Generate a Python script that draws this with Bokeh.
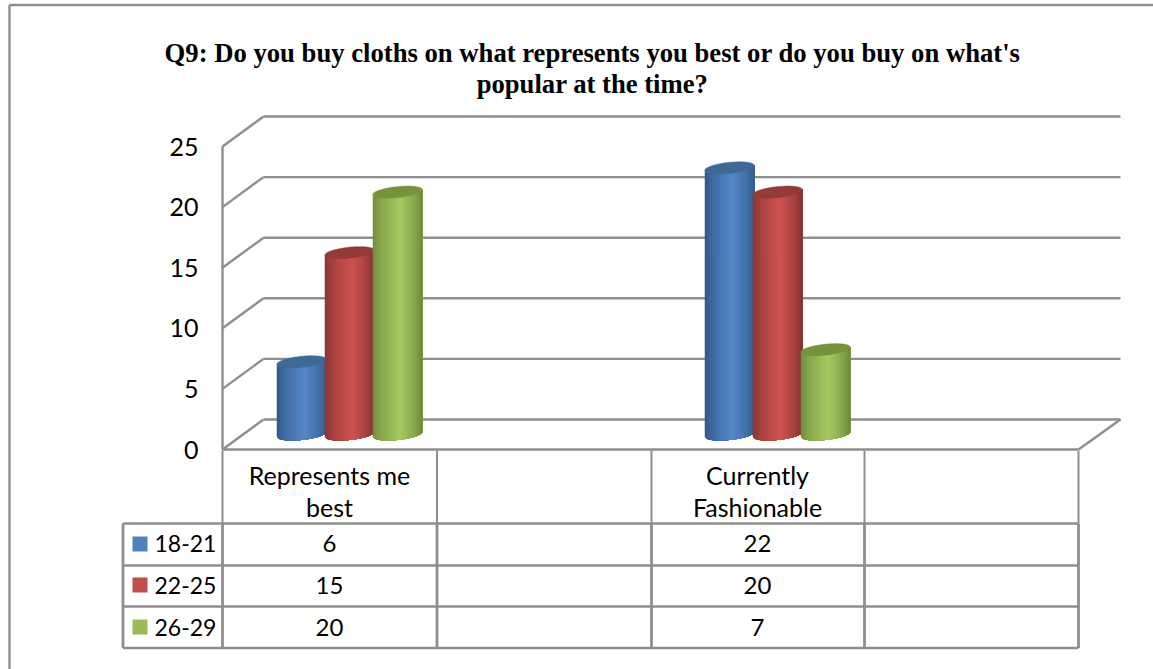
from math import sqrt
from bokeh.embed import file_html
from bokeh.resources import INLINE
from bokeh.plotting import figure
from bokeh.models import Range1d, LinearAxis, FixedTicker
from bokeh.core.properties import value

# ---- data ----
title_lines = ["Q9: Do you buy cloths on what represents you best or do you buy on what's",
               "popular at the time?"]
categories = [["Represents me", "best"], [], ["Currently", "Fashionable"], []]
series_names = ["18-21", "22-25", "26-29"]
s_18_21 = [6, None, 22, None]
s_22_25 = [15, None, 20, None]
s_26_29 = [20, None, 7, None]
y_ticks = [0, 5, 10, 15, 20, 25]

# ---- geometry: one table slot is one x unit, y is in chart values ----
W, H = 1153, 669
SLOT = 214.0
PPU = 12.12
X0, Y0 = 222.0, 449.0
def X(px): return (px - X0) / SLOT
def Y(py): return (Y0 - py) / PPU
DX = 41 / SLOT           # depth of the 3-D box
DY = 30 / PPU
BAR_W = 49.5 / SLOT
BAR_PITCH = 48 / SLOT
BAR_BASE = 15 / PPU      # bars stand half way into the floor
BAR_SHIFT = 20 / SLOT
ELL_B = 5.5 / PPU
ELL_T = 2.5 / PPU

GRID = "#8e8e8e"
shades = [
    {"edgeL": (47, 84, 132), "mid": (85, 135, 200), "edgeR": (50, 88, 135), "top": "#3e6896", "sw": "#4f81bd"},
    {"edgeL": (134, 52, 50), "mid": (205, 83, 80), "edgeR": (125, 48, 46), "top": "#943a38", "sw": "#c0504d"},
    {"edgeL": (110, 138, 60), "mid": (166, 201, 95), "edgeR": (105, 132, 58), "top": "#76923c", "sw": "#9bbb59"},
]

p = figure(width=W, height=H, output_backend="svg", toolbar_location=None,
           x_range=Range1d(X(0), X(W)), y_range=Range1d(Y(H), Y(0)),
           x_axis_type=None, y_axis_type=None, min_border=0,
           background_fill_color="white", border_fill_color="white",
           outline_line_color=None)
p.grid.visible = False

def seg(x0, y0, x1, y1, w=2.4):
    p.line([x0, x1], [y0, y1], line_color=GRID, line_width=w)

# outer frame of the picture
seg(X(9), Y(4.5), X(W), Y(4.5))
seg(X(9), Y(4.5), X(9), Y(H))

# walls and gridlines
for t in y_ticks:
    seg(0, t, DX, t + DY)
    seg(DX, t + DY, X(1120), t + DY)
seg(0, y_ticks[0], 0, y_ticks[-1])
seg(0, 0, X(1078), 0)
seg(X(1078), 0, X(1120), DY)

# cylinders
def lerp(a, b, f):
    return tuple(int(round(a[i] + (b[i] - a[i]) * f)) for i in range(3))
def hexc(c):
    return "#%02x%02x%02x" % c
def low(u):
    return ELL_T * u - ELL_B * sqrt(max(0, 1 - u * u))

all_series = [s_18_21, s_22_25, s_26_29]
N = 36
for ci in range(len(categories)):
    cx = ci + 0.5 + BAR_SHIFT
    for si, vals in enumerate(all_series):
        v = vals[ci]
        if v is None:
            continue
        c = cx + (si - 1) * BAR_PITCH
        a = BAR_W / 2
        sh = shades[si]
        xs, ys, cols = [], [], []
        for k in range(N):
            # each strip runs on to the bar's right edge, so later strips
            # paint over it and no seam shows between neighbours
            u0 = -1 + 2 * k / N
            m = u0 + 1 / N
            us = [u0 + (1 - u0) * j / 30 for j in range(31)]
            px = [c + a * u for u in us]
            bot = [BAR_BASE + low(u) for u in us]
            top = [BAR_BASE + v + low(u) for u in us]
            xs.append(px + px[::-1])
            ys.append(bot + top[::-1])
            if m < 0.1:
                f = ((m + 1) / 1.1) ** 0.7
                col = lerp(sh["edgeL"], sh["mid"], f)
            else:
                f = ((1 - m) / 0.9) ** 0.7
                col = lerp(sh["edgeR"], sh["mid"], f)
            cols.append(hexc(col))
        p.patches(xs, ys, fill_color=cols, line_color=None)
        ex, ey = [], []
        for k in range(61):
            u = -1 + 2 * k / 60
            ex.append(c + a * u)
            ey.append(BAR_BASE + v + ELL_T * u + ELL_B * sqrt(max(0, 1 - u * u)))
        for k in range(61):
            u = 1 - 2 * k / 60
            ex.append(c + a * u)
            ey.append(BAR_BASE + v + ELL_T * u - ELL_B * sqrt(max(0, 1 - u * u)))
        p.patch(ex, ey, fill_color=sh["top"], line_color=sh["top"], line_width=0.5)

# data table
row_lines = [523, 565, 606, 647.5]
col_lines = [222, 436.5, 651, 864, 1078]
for r in row_lines:
    seg(X(122.5), Y(r), X(1078), Y(r))
seg(X(122.5), Y(row_lines[0]), X(122.5), Y(row_lines[-1]), 2.8)
for cl in col_lines:
    seg(X(cl), Y(450), X(cl), Y(row_lines[0]), 2.0)
    seg(X(cl), Y(row_lines[0]), X(cl), Y(row_lines[-1]), 2.8)

FONT = value("Lato")
SIZE = value("24px")
for ci, lines in enumerate(categories):
    for li, t in enumerate(lines):
        p.text([ci + 0.5], [Y(474 + li * 32)], text=[t], text_font=FONT, text_font_size=value("25px"),
               text_color="#000000", text_align="center", text_baseline="middle")
row_mid = [543, 585, 626.5]
swatch_mid = [543.5, 584.5, 626.5]
for si, vals in enumerate(all_series):
    for ci, v in enumerate(vals):
        if v is not None:
            p.text([ci + 0.5], [Y(row_mid[si])], text=[str(v)], text_font=FONT, text_font_size=SIZE,
                   text_color="#000000", text_align="center", text_baseline="middle")
    p.text([X(154)], [Y(row_mid[si])], text=[series_names[si]], text_font=FONT, text_font_size=value("23px"),
           text_color="#000000", text_align="left", text_baseline="middle")
    p.quad(left=[X(132)], right=[X(147)], top=[Y(swatch_mid[si] - 7.5)], bottom=[Y(swatch_mid[si] + 7.5)],
           fill_color=shades[si]["sw"], line_color=None)

# value axis
axis = LinearAxis(ticker=FixedTicker(ticks=y_ticks), fixed_location=0, bounds=(0, 25))
axis.axis_line_color = None
axis.major_tick_line_color = None
axis.minor_tick_line_color = None
axis.major_label_standoff = 18
axis.major_label_text_font = "Lato"
axis.major_label_text_font_size = "25px"
axis.major_label_text_color = "#000000"
p.add_layout(axis, "left")

# title
for i, t in enumerate(title_lines):
    p.text([X(592)], [Y(52 + i * 31)], text=[t], text_font=value("Liberation Serif"),
           text_font_style="bold", text_font_size=value("26.67px"), text_color="#000000",
           text_align="center", text_baseline="middle")

open("out.html", "w").write(file_html(p, INLINE))
